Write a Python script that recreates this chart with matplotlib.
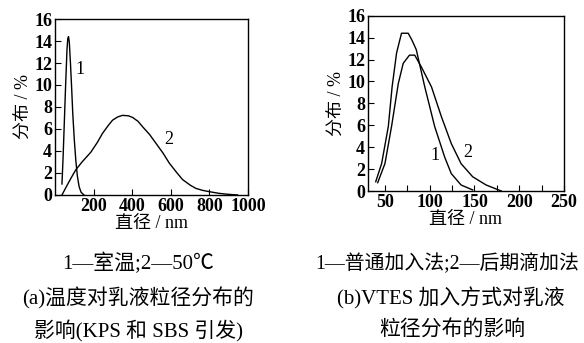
import matplotlib.pyplot as plt
from matplotlib.ticker import MultipleLocator

plt.rcParams['font.family'] = ['Liberation Serif', 'Noto Sans CJK SC']

# (a) temperature effect
a1_x = [36, 42, 48, 55, 62, 66, 70, 74, 80, 86, 92, 100, 108, 116, 125, 135, 150]
a1_y = [1.0, 3.5, 6.5, 10.0, 13.2, 14.2, 14.4, 13.9, 12.0, 9.8, 7.4, 5.0, 3.1, 1.7, 0.75, 0.25, 0.0]
a2_x = [36, 60, 85, 108, 140, 186, 220, 246, 275, 298, 325, 350, 380, 402, 430, 454, 490, 523,
        560, 592, 630, 661, 700, 730, 765, 800, 850, 886, 946]
a2_y = [0.0, 0.8, 1.6, 2.3, 3.0, 3.9, 4.8, 5.6, 6.3, 6.8, 7.1, 7.24, 7.2, 7.05, 6.7, 6.2, 5.5, 4.7,
        3.8, 2.9, 2.05, 1.4, 0.9, 0.6, 0.42, 0.3, 0.15, 0.08, 0.0]

# (b) VTES addition mode
b1_x = [39.7, 46.3, 53.8, 58, 63, 68.5, 76, 80, 85, 94.5, 105.5, 116.7, 124, 135, 148]
b1_y = [0.85, 2.5, 5.9, 9.5, 12.6, 14.4, 14.4, 13.8, 12.9, 9.5, 5.9, 3.1, 1.6, 0.55, 0.1]
b2_x = [41.9, 50, 57.4, 64.9, 70.4, 77.4, 83.3, 90.8, 102, 113, 124, 135, 148, 163, 180]
b2_y = [0.76, 2.5, 5.9, 9.8, 11.65, 12.4, 12.4, 11.3, 9.5, 6.8, 4.35, 2.5, 1.3, 0.55, 0.0]

a_ticks = [200, 400, 600, 800, 1000]
b_ticks = [50, 100, 150, 200, 250]
y_ticks = [0, 2, 4, 6, 8, 10, 12, 14, 16]

fig = plt.figure(figsize=(5.84, 3.43), dpi=100)
axa = fig.add_axes([0.0942, 0.4315, 0.3305, 0.5131])
axb = fig.add_axes([0.630, 0.4431, 0.3358, 0.5111])

tick_font = dict(fontsize=13, fontweight='bold')

axa.plot(a1_x, a1_y, color='black', lw=1.0)
axa.plot(a2_x, a2_y, color='black', lw=1.0)
axa.set_xlim(0, 1000)
axa.set_ylim(0, 16)
axa.set_xticks(a_ticks)
axa.set_xticklabels([str(t) for t in a_ticks], **tick_font)
axa.set_yticks(y_ticks)
axa.set_yticklabels([str(t) for t in y_ticks], **tick_font)
axa.text(131, 11.4, '1', fontsize=13, ha='center', va='center')
axa.text(588, 5.0, '2', fontsize=13, ha='center', va='center')

axb.plot(b1_x, b1_y, color='black', lw=1.0)
axb.plot(b2_x, b2_y, color='black', lw=1.0)
axb.set_xlim(31, 250)
axb.set_ylim(0, 16)
axb.set_xticks(b_ticks)
axb.set_xticklabels([str(t) for t in b_ticks], **tick_font)
axb.xaxis.set_minor_locator(MultipleLocator(25))
axb.set_yticks(y_ticks)
axb.set_yticklabels([str(t) for t in y_ticks], **tick_font)
axb.text(105.5, 3.2, '1', fontsize=13, ha='center', va='center')
axb.text(142, 3.5, '2', fontsize=13, ha='center', va='center')

for ax in (axa, axb):
    ax.tick_params(direction='in', length=4, width=0.8, pad=2)
    ax.tick_params(which='minor', direction='in', length=4, width=0.8)
    for s in ax.spines.values():
        s.set_linewidth(1.0)
    ax.set_ylabel('分布 / %', fontsize=13, labelpad=1)
    ax.set_xlabel('直径 / nm', fontsize=13, labelpad=0)

cap = dict(fontsize=15, ha='center', va='center')
fig.text(138 / 584, 1 - 264 / 343, '1—室温;2—50℃', **cap)
fig.text(138 / 584, 1 - 298 / 343, '(a)温度对乳液粒径分布的', **cap)
fig.text(138 / 584, 1 - 331 / 343, '影响(KPS 和 SBS 引发)', **cap)
fig.text(447 / 584, 1 - 264 / 343, '1—普通加入法;2—后期滴加法',
         fontsize=14.3, ha='center', va='center')
fig.text(451 / 584, 1 - 298 / 343, '(b)VTES 加入方式对乳液', **cap)
fig.text(452 / 584, 1 - 331 / 343, '粒径分布的影响', **cap)

fig.savefig('out.png', dpi=100)
